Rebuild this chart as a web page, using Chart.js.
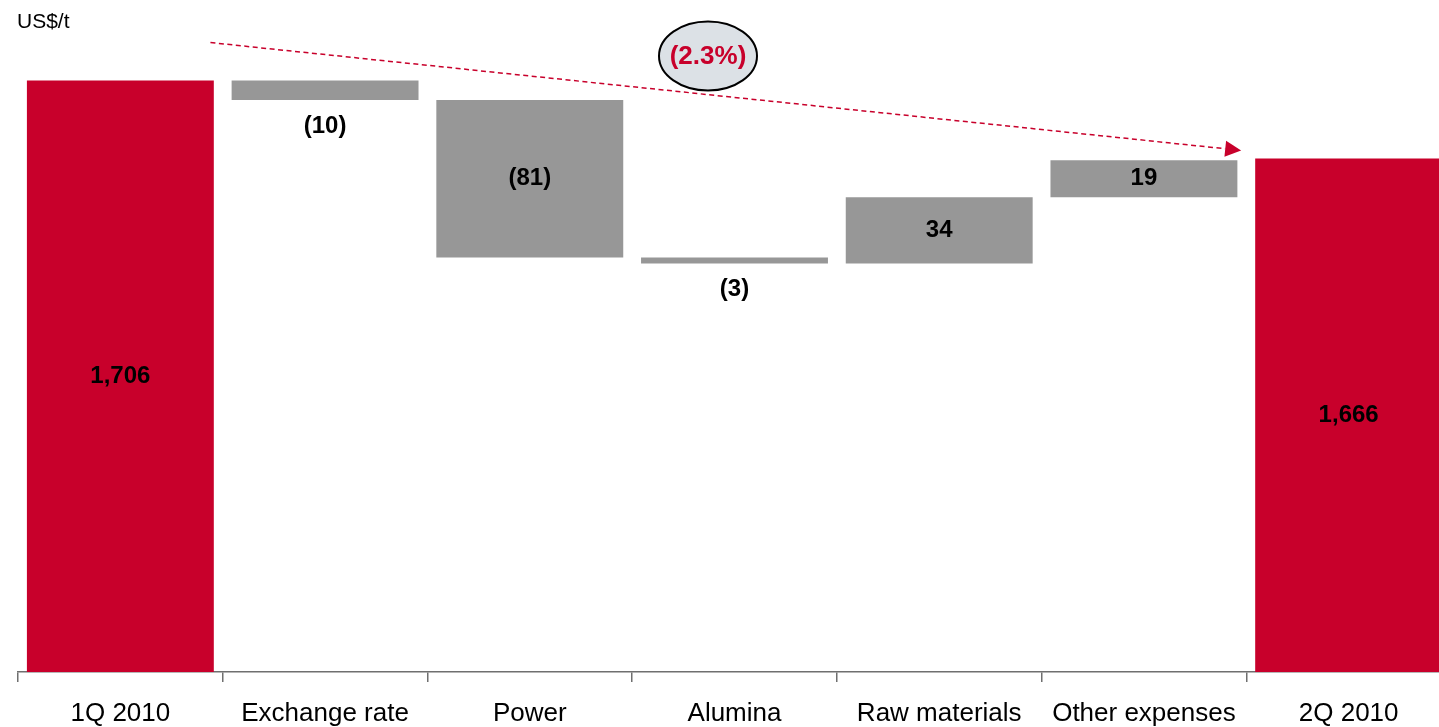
<!DOCTYPE html>
<html>
<head>
<meta charset="utf-8">
<script src="https://cdn.jsdelivr.net/npm/chart.js@4.4.1/dist/chart.umd.min.js"></script>
<style>
  html, body { margin: 0; padding: 0; background: #ffffff; overflow: hidden; }
  #wrap { position: relative; width: 1455px; height: 727px; }
  canvas { display: block; }
</style>
</head>
<body>
<div id="wrap"><canvas id="bridge" width="1455" height="727"></canvas></div>
<script>
// Cash cost bridge, US$ per tonne
const categories = ['1Q 2010', 'Exchange rate', 'Power', 'Alumina', 'Raw materials', 'Other expenses', '2Q 2010'];
const openingTotal = 1706;
const changes = [-10, -81, -3, 34, 19];
const closingTotal = 1666;
const changeLabel = '(2.3%)';
const unitLabel = 'US$/t';

const RED = '#c8002b';
const GREY = '#979797';
const FONT = "'Liberation Sans', Arial, Helvetica, sans-serif";

// Floating bar ranges: totals stand on the axis floor, changes float on the running sum
const yMin = 1402;
const yMax = 1732;
const ranges = [];
const shownValues = [];
const isTotal = [];
ranges.push([yMin, openingTotal]);
shownValues.push(openingTotal);
isTotal.push(true);
let running = openingTotal;
changes.forEach(function (c) {
  ranges.push([running, running + c]);
  shownValues.push(c);
  isTotal.push(false);
  running += c;
});
ranges.push([yMin, closingTotal]);
shownValues.push(closingTotal);
isTotal.push(true);

function fmt(v, total) {
  if (total) return v.toLocaleString('en-US');
  return v < 0 ? '(' + Math.abs(v) + ')' : String(v);
}

const valueLabels = {
  id: 'valueLabels',
  afterDatasetsDraw(chart) {
    const ctx = chart.ctx;
    const meta = chart.getDatasetMeta(0);
    ctx.save();
    ctx.font = 'bold 24px ' + FONT;
    ctx.fillStyle = '#000000';
    ctx.textAlign = 'center';
    ctx.textBaseline = 'middle';
    meta.data.forEach(function (bar, i) {
      const top = Math.min(bar.y, bar.base);
      const bottom = Math.max(bar.y, bar.base);
      const h = bottom - top;
      let y = (top + bottom) / 2;
      if (!isTotal[i] && h < 28) y = bottom + 26;
      ctx.fillText(fmt(shownValues[i], isTotal[i]), bar.x, y);
    });
    ctx.restore();
  }
};

const decorations = {
  id: 'decorations',
  afterDraw(chart) {
    const ctx = chart.ctx;
    const xs = chart.scales.x;
    const ys = chart.scales.y;
    const step = xs.getPixelForValue(1) - xs.getPixelForValue(0);

    // unit caption
    ctx.save();
    ctx.font = '21px ' + FONT;
    ctx.fillStyle = '#000000';
    ctx.textAlign = 'left';
    ctx.textBaseline = 'alphabetic';
    ctx.fillText(unitLabel, 17, 28);
    ctx.restore();

    // dashed trend arrow from opening to closing level
    const x1 = xs.getPixelForValue(0) + 0.44 * step;
    const y1 = ys.getPixelForValue(openingTotal) - 38;
    const x2 = xs.getPixelForValue(6) - 0.525 * step;
    const y2 = ys.getPixelForValue(closingTotal) - 8;
    const ang = Math.atan2(y2 - y1, x2 - x1);
    const headLen = 16, headHalf = 8;
    const bx = x2 - headLen * Math.cos(ang);
    const by = y2 - headLen * Math.sin(ang);
    ctx.save();
    ctx.strokeStyle = RED;
    ctx.lineWidth = 1.5;
    ctx.setLineDash([5, 3.5]);
    ctx.beginPath();
    ctx.moveTo(x1, y1);
    ctx.lineTo(bx, by);
    ctx.stroke();
    ctx.setLineDash([]);
    ctx.fillStyle = RED;
    ctx.beginPath();
    ctx.moveTo(x2, y2);
    ctx.lineTo(bx - headHalf * Math.sin(ang), by + headHalf * Math.cos(ang));
    ctx.lineTo(bx + headHalf * Math.sin(ang), by - headHalf * Math.cos(ang));
    ctx.closePath();
    ctx.fill();
    ctx.restore();

    // percentage change bubble
    const cx = xs.getPixelForValue(3) - 26.5;
    const cy = 56;
    ctx.save();
    ctx.beginPath();
    ctx.ellipse(cx, cy, 49, 34.5, 0, 0, Math.PI * 2);
    ctx.fillStyle = '#dce1e6';
    ctx.fill();
    ctx.lineWidth = 2;
    ctx.strokeStyle = '#000000';
    ctx.stroke();
    ctx.font = 'bold 26px ' + FONT;
    ctx.fillStyle = RED;
    ctx.textAlign = 'center';
    ctx.textBaseline = 'middle';
    ctx.fillText(changeLabel, cx, cy + 1);
    ctx.restore();
  }
};

new Chart(document.getElementById('bridge'), {
  type: 'bar',
  data: {
    labels: categories,
    datasets: [{
      data: ranges,
      backgroundColor: isTotal.map(function (t) { return t ? RED : GREY; }),
      borderWidth: 0,
      borderSkipped: false,
      barPercentage: 0.913,
      categoryPercentage: 1.0
    }]
  },
  options: {
    responsive: false,
    animation: false,
    layout: { padding: { left: 18, right: 4, top: 30, bottom: 0 } },
    plugins: {
      legend: { display: false },
      tooltip: { enabled: false },
      title: { display: false }
    },
    scales: {
      x: {
        offset: true,
        grid: {
          offset: true,
          drawOnChartArea: false,
          drawTicks: true,
          tickLength: 10,
          color: '#6f6f6f',
          lineWidth: 1.5
        },
        border: { display: true, color: '#6f6f6f', width: 1.5 },
        ticks: {
          color: '#000000',
          padding: 16,
          maxRotation: 0,
          autoSkip: false,
          font: { family: FONT, size: 26 }
        },
        afterFit(scale) { scale.height = 55; }
      },
      y: {
        display: false,
        min: yMin,
        max: yMax
      }
    }
  },
  plugins: [valueLabels, decorations]
});
</script>
</body>
</html>
